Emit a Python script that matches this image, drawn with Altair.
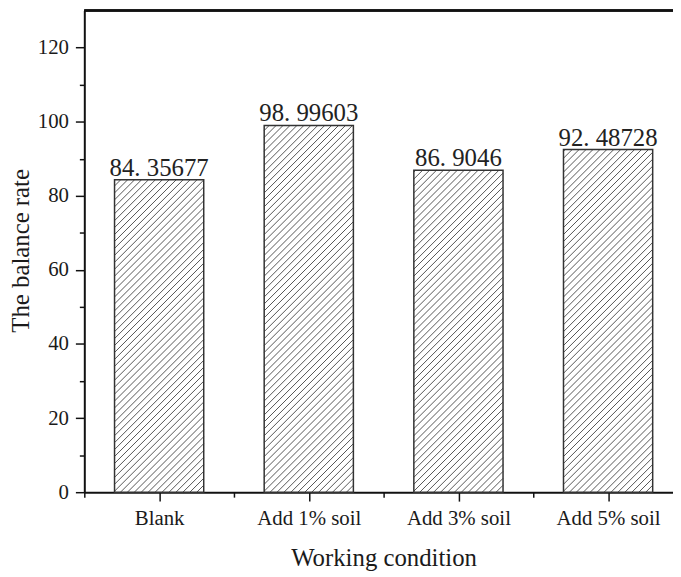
import json
import altair as alt
import pandas as pd

# ---- data ----
categories = ["Blank", "Add 1% soil", "Add 3% soil", "Add 5% soil"]
values = [84.35677, 98.99603, 86.9046, 92.48728]
y_major = [0, 20, 40, 60, 80, 100, 120]
y_minor = [10, 30, 50, 70, 90, 110]
x_major = [1, 2, 3, 4]
x_minor = [0.5, 1.5, 2.5, 3.5]

FONT = "Liberation Serif"
W, H = 594, 486
STEP = 151.0               # px per category
X0 = 0.5
X1 = X0 + W / STEP
YMAX = 130
HALF = 0.298               # bar half width in category units
kx = STEP
ky = H / YMAX
HATCH = 7.0                # px between hatch lines (horizontal)

df = pd.DataFrame({"category": categories, "value": values,
                   "pos": list(range(1, len(categories) + 1))})

# hatch segments (45 deg), clipped to each bar, in data units
rows = []
for p, v in zip(df["pos"], df["value"]):
    bw = 2 * HALF * kx
    bh = v * ky
    xl = p - HALF
    c = -bw
    while c < bh:
        xs = max(0.0, -c)
        xe = min(bw, bh - c)
        if xe > xs:
            rows.append({"x": xl + xs / kx, "x2": xl + xe / kx,
                         "y": (xs + c) / ky, "y2": (xe + c) / ky})
        c += HATCH
hatch = pd.DataFrame(rows)

xscale = alt.Scale(domain=[X0, X1], nice=False, zero=False)
yscale = alt.Scale(domain=[0, YMAX], nice=False, zero=False)

label_expr = json.dumps(categories) + "[datum.value - 1]"

base = alt.Chart(df)

bars_fill = base.mark_rect(fill="white", stroke=None).encode(
    x=alt.X("x0:Q", scale=xscale,
            axis=alt.Axis(orient="bottom", values=x_major, labelExpr=label_expr, tickSize=9,
                          labelPadding=7, title="Working condition",
                          titleX=W / 2 + 5, titleY=74, titleBaseline="alphabetic",
                          titleAnchor="middle")),
    x2="x1:Q",
    y=alt.Y("value:Q", scale=yscale,
            axis=alt.Axis(orient="left", values=y_major, tickSize=9, labelPadding=7,
                          title="The balance rate", titleX=-64, titleY=H / 2 - 1,
                          titleAngle=-90, titleBaseline="middle", titleAlign="center")),
    y2=alt.datum(0),
).transform_calculate(x0=f"datum.pos - {HALF}", x1=f"datum.pos + {HALF}")

minor_x = base.mark_point(opacity=0).encode(
    x=alt.X("pos:Q", scale=xscale,
            axis=alt.Axis(orient="bottom", values=x_minor, labels=False, tickSize=5,
                          title=None, domain=False)),
    y=alt.Y("value:Q", scale=yscale,
            axis=alt.Axis(orient="left", values=y_minor, labels=False, tickSize=5,
                          title=None, domain=False)),
)

hatch_layer = alt.Chart(hatch).mark_rule(color="#555555", strokeWidth=1).encode(
    x=alt.X("x:Q", scale=xscale, axis=None), x2="x2:Q",
    y=alt.Y("y:Q", scale=yscale, axis=None), y2="y2:Q",
)

bars_outline = base.mark_rect(fill=None, stroke="#333333", strokeWidth=1.5).encode(
    x=alt.X("x0:Q", scale=xscale, axis=None), x2="x1:Q",
    y=alt.Y("value:Q", scale=yscale, axis=None), y2=alt.datum(0),
).transform_calculate(x0=f"datum.pos - {HALF}", x1=f"datum.pos + {HALF}")

labels = base.mark_text(font=FONT, fontSize=25, color="#222222",
                        baseline="alphabetic", dy=-4).encode(
    x=alt.X("pos:Q", scale=xscale, axis=None),
    y=alt.Y("value:Q", scale=yscale, axis=None),
    text="label:N",
).transform_calculate(label="replace(toString(datum.value), '.', '. ')")

top_border = alt.Chart(df).mark_rule(color="#111111", strokeWidth=2).encode(
    x=alt.value(0), x2=alt.value(W), y=alt.value(0)
)

chart = alt.layer(bars_fill, minor_x, hatch_layer, bars_outline, labels, top_border).resolve_axis(
    x="independent", y="independent"
).properties(
    width=W, height=H,
    autosize=alt.AutoSizeParams(type="none"),
    padding={"left": 77, "top": 0, "right": 0, "bottom": 82},
).configure_view(stroke=None).configure_axis(
    grid=False,
    domainColor="#111111", domainWidth=2,
    tickColor="#111111", tickWidth=1.5,
    labelFont=FONT, labelFontSize=21, labelColor="#1a1a1a",
    titleFont=FONT, titleFontSize=25, titleFontWeight="normal", titleColor="#1a1a1a",
)

chart.save("out.html", embed_options={"renderer": "svg", "actions": False})
